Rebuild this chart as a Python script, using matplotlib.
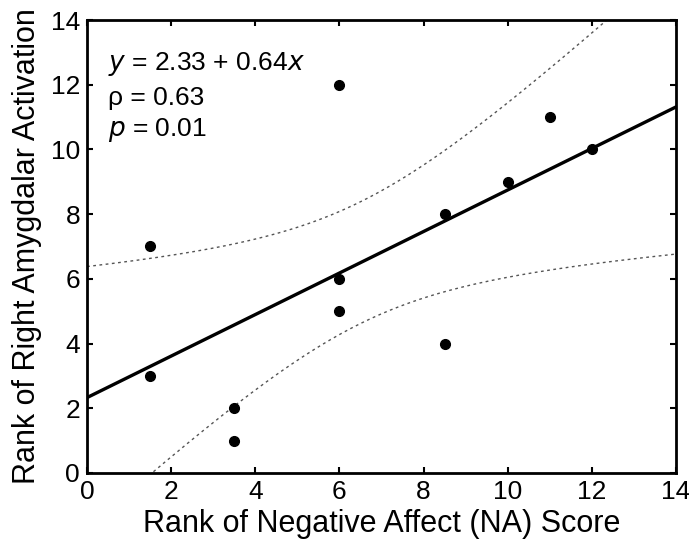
import matplotlib.pyplot as plt
import numpy as np

plt.rcParams['font.family'] = ['Liberation Sans', 'DejaVu Sans']

# ranks
na_rank = [1.5, 1.5, 3.5, 3.5, 6, 6, 6, 8.5, 8.5, 10, 11, 12]
amyg_rank = [7, 3, 2, 1, 12, 6, 5, 8, 4, 9, 11, 10]
ticks = [0, 2, 4, 6, 8, 10, 12, 14]

x = np.array(na_rank, dtype=float)
y = np.array(amyg_rank, dtype=float)
n = len(x)

# least squares fit + 95% confidence band of the mean
slope, icpt = np.polyfit(x, y, 1)
resid = y - (icpt + slope*x)
s = np.sqrt(np.sum(resid**2) / (n - 2))
sxx = np.sum((x - x.mean())**2)
t = 2.228  # t(0.975, df=10)
xx = np.linspace(0, 14, 300)
yy = icpt + slope*xx
half = t*s*np.sqrt(1.0/n + (xx - x.mean())**2 / sxx)

fig = plt.figure(figsize=(6.89, 5.48), dpi=100)
ax = fig.add_axes([0.1263, 0.1369, 0.8547, 0.8266])

ax.plot(xx, yy + half, color='#555555', lw=1, ls=(0, (2, 2.5)), zorder=1)
ax.plot(xx, yy - half, color='#555555', lw=1, ls=(0, (2, 2.5)), zorder=1)
ax.plot(xx, yy, color='black', lw=2.4, zorder=2)
ax.plot(x, y, 'o', color='black', ms=7, zorder=3)

ax.text(0.5, 12.65, '$y$ = 2.33 + 0.64$x$', fontsize=19, va='center')
ax.text(0.5, 11.6, 'ρ = 0.63', fontsize=19, va='center')
ax.text(0.5, 10.6, '$p$ = 0.01', fontsize=19, va='center')

ax.set_xlim(0, 14)
ax.set_ylim(0, 14)
ax.set_xticks(ticks)
ax.set_yticks(ticks)
ax.tick_params(direction='in', top=True, right=True, length=4, width=1.5,
               labelsize=19, pad=5)
for sp in ax.spines.values():
    sp.set_linewidth(2)

ax.set_xlabel('Rank of Negative Affect (NA) Score', fontsize=22, labelpad=4)
ax.set_ylabel('Rank of Right Amygdalar Activation', fontsize=22, labelpad=6)

fig.savefig('out.png', dpi=100)
